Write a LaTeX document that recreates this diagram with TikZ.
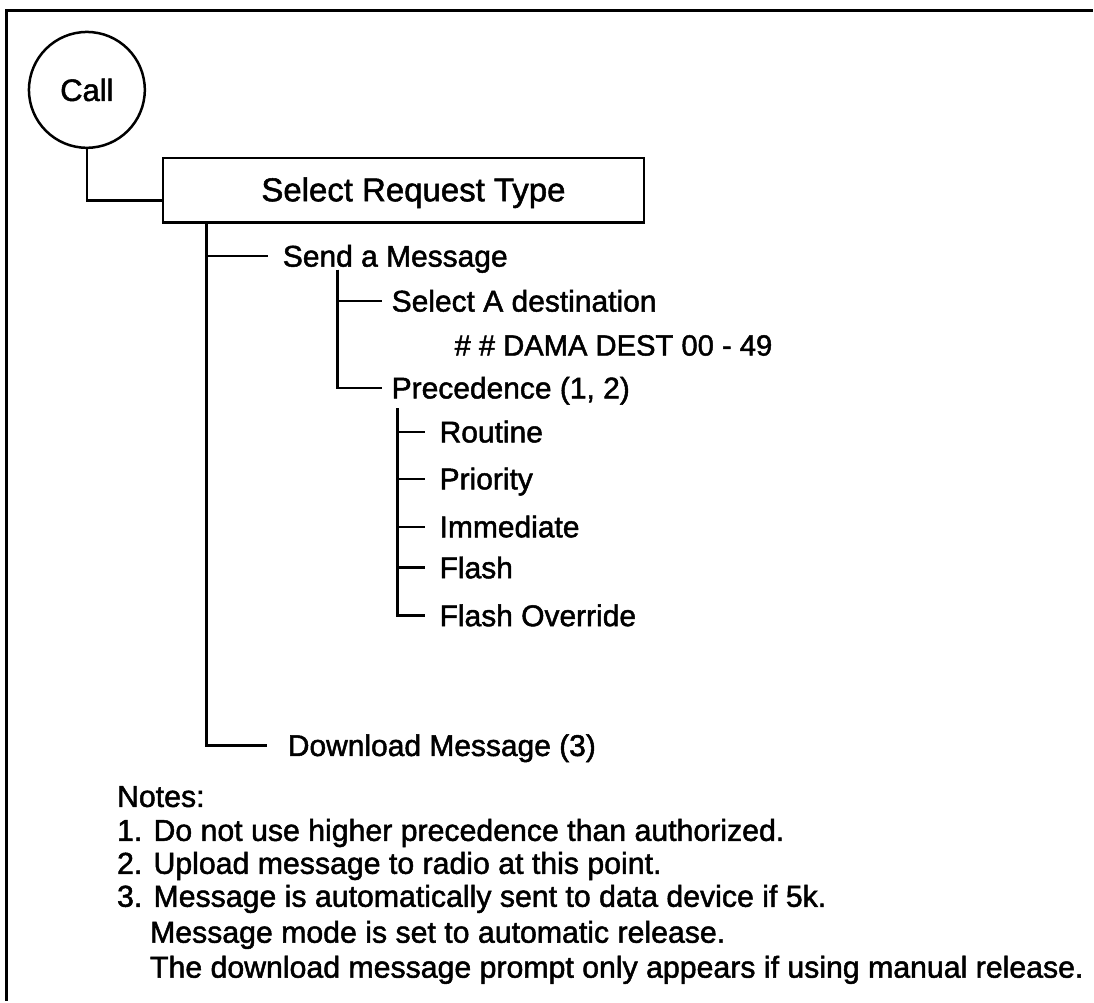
\documentclass[tikz,border=0pt]{standalone}
\usepackage{fontspec}
\setmainfont{Liberation Sans}[FakeBold=1.6]
\begin{document}
\begin{tikzpicture}[x=1pt,y=-1pt,line width=2.5pt,
  lbl/.style={anchor=base west,inner sep=0pt,text height=21pt,text depth=0pt,font=\fontsize{30}{36}\selectfont},
  note/.style={anchor=base west,inner sep=0pt,font=\fontsize{30.3}{36}\selectfont},
  frame/.style={line width=3pt}]
\fill[white] (0,0) rectangle (1094,1002);
\draw[frame] (7,1002) -- (7,11) -- (1094,11);
% nodes
\node[circle,draw,minimum size=116pt,inner sep=0pt,font=\fontsize{31}{36}\selectfont] (call) at (87,90) {Call};
\node[draw,minimum width=482pt,minimum height=65pt,inner sep=0pt,text height=22pt,text depth=0pt,font=\fontsize{33}{38}\selectfont] (srt) at (404,190.5) {\hspace*{20pt}Select Request Type};
\node[lbl] (send) at (282,267) {Send a Message};
\node[lbl] (selA) at (391,312) {Select A destination};
\node[lbl,font=\fontsize{29.2}{36}\selectfont] (dama) at (454,356) {\# \# DAMA DEST 00 - 49};
\node[lbl] (prec) at (391,399) {Precedence (1, 2)};
\node[lbl] (rout) at (439,443) {Routine};
\node[lbl] (prio) at (439,490) {Priority};
\node[lbl] (imm) at (439,538) {Immediate};
\node[lbl] (flash) at (439,579) {Flash};
\node[lbl] (flov) at (439,627) {Flash Override};
\node[lbl] (dl) at (287,757) {Download Message (3)};
\node[note] (n0) at (116,808) {Notes:};
\node[note] (n1) at (116,842) {1. Do not use higher precedence than authorized.};
\node[note] (n2) at (116,875) {2. Upload message to radio at this point.};
\node[note] (n3) at (116,908) {3. Message is automatically sent to data device if 5k.};
\node[note] (n4) at (149,944) {Message mode is set to automatic release.};
\node[note] (n5) at (149,979) {The download message prompt only appears if using manual release.};
% trunk tops
\coordinate (t1) at (207,223);
\coordinate (t2) at (338,270);
\coordinate (t3) at (398,409);
% connectors
\draw (call.south) |- ([yshift=-10.5pt]srt.west);
\draw (t1) |- ([xshift=-14pt]send.west);
\draw (t1) |- ([xshift=-20pt]dl.west);
\draw (t2) |- ([xshift=-8pt]selA.west);
\draw (t2) |- ([xshift=-8pt]prec.west);
\draw (t3) |- ([xshift=-13pt]rout.west);
\draw (t3) |- ([xshift=-13pt]prio.west);
\draw (t3) |- ([xshift=-13pt]imm.west);
\draw (t3) |- ([xshift=-13pt]flash.west);
\draw (t3) |- ([xshift=-13pt]flov.west);
\end{tikzpicture}
\end{document}
